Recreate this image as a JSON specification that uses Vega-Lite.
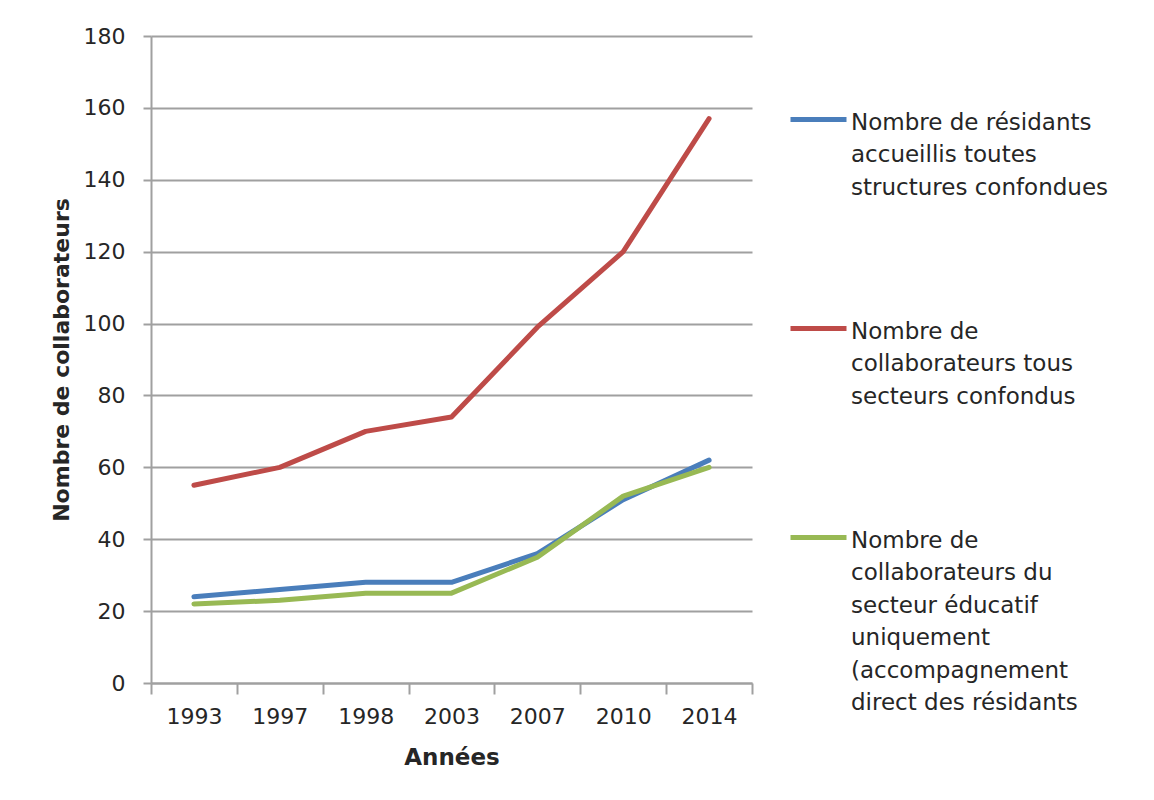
{
  "$schema": "https://vega.github.io/schema/vega-lite/v6.json",
  "width": 601,
  "height": 647,
  "autosize": {"type": "none"},
  "padding": {"left": 151, "top": 36, "right": 402, "bottom": 117},
  "background": "white",
  "config": {
    "font": "DejaVu Sans",
    "view": {"stroke": null}
  },
  "data": {
    "values": [
      {"annee": "1993", "serie": "residants", "valeur": 24},
      {"annee": "1997", "serie": "residants", "valeur": 26},
      {"annee": "1998", "serie": "residants", "valeur": 28},
      {"annee": "2003", "serie": "residants", "valeur": 28},
      {"annee": "2007", "serie": "residants", "valeur": 36},
      {"annee": "2010", "serie": "residants", "valeur": 51},
      {"annee": "2014", "serie": "residants", "valeur": 62},
      {"annee": "1993", "serie": "tous", "valeur": 55},
      {"annee": "1997", "serie": "tous", "valeur": 60},
      {"annee": "1998", "serie": "tous", "valeur": 70},
      {"annee": "2003", "serie": "tous", "valeur": 74},
      {"annee": "2007", "serie": "tous", "valeur": 99},
      {"annee": "2010", "serie": "tous", "valeur": 120},
      {"annee": "2014", "serie": "tous", "valeur": 157},
      {"annee": "1993", "serie": "educatif", "valeur": 22},
      {"annee": "1997", "serie": "educatif", "valeur": 23},
      {"annee": "1998", "serie": "educatif", "valeur": 25},
      {"annee": "2003", "serie": "educatif", "valeur": 25},
      {"annee": "2007", "serie": "educatif", "valeur": 35},
      {"annee": "2010", "serie": "educatif", "valeur": 52},
      {"annee": "2014", "serie": "educatif", "valeur": 60}
    ]
  },
  "mark": {"type": "line", "strokeWidth": 5, "strokeCap": "round", "strokeJoin": "round"},
  "encoding": {
    "x": {
      "field": "annee",
      "type": "ordinal",
      "sort": null,
      "bandPosition": 0.5,
      "scale": {"type": "band", "paddingInner": 0, "paddingOuter": 0},
      "axis": {
        "title": "Années",
        "titleFontSize": 23,
        "titleFontWeight": "bold",
        "titleColor": "#262626",
        "titlePadding": 19,
        "labelAngle": 0,
        "labelFontSize": 22,
        "labelColor": "#262626",
        "labelPadding": 12,
        "tickBand": "extent",
        "tickColor": "#a0a0a0",
        "tickWidth": 2,
        "tickSize": 11,
        "domainColor": "#a0a0a0",
        "domainWidth": 2,
        "grid": false
      }
    },
    "y": {
      "field": "valeur",
      "type": "quantitative",
      "scale": {"domain": [0, 180], "nice": false},
      "axis": {
        "title": "Nombre de collaborateurs",
        "titleFontSize": 22,
        "titleFontWeight": "bold",
        "titleColor": "#262626",
        "titlePadding": 10,
        "values": [0, 20, 40, 60, 80, 100, 120, 140, 160, 180],
        "labelFontSize": 22,
        "labelColor": "#262626",
        "labelPadding": 18,
        "tickColor": "#a0a0a0",
        "tickWidth": 2,
        "tickSize": 8,
        "domainColor": "#a0a0a0",
        "domainWidth": 2,
        "gridColor": "#a0a0a0",
        "gridWidth": 2
      }
    },
    "color": {
      "field": "serie",
      "type": "nominal",
      "scale": {
        "domain": ["residants", "tous", "educatif"],
        "range": ["#4A7EBB", "#BE4B48", "#98B954"]
      },
      "legend": {
        "title": null,
        "orient": "none",
        "legendX": 637,
        "legendY": 53,
        "symbolType": "stroke",
        "symbolSize": 3136,
        "symbolStrokeWidth": 5,
        "labelFontSize": 23,
        "labelColor": "#262626",
        "labelLimit": 0,
        "labelOffset": 2,
        "labelBaseline": "top",
        "rowPadding": 98,
        "labelExpr": "datum.value == 'residants' ? ['Nombre de résidants', 'accueillis toutes', 'structures confondues'] : datum.value == 'tous' ? ['Nombre de', 'collaborateurs tous', 'secteurs confondus'] : ['Nombre de', 'collaborateurs du', 'secteur éducatif', 'uniquement', '(accompagnement', 'direct des résidants']",
        "encode": {"labels": {"update": {"dy": {"value": -8}, "lineHeight": {"value": 32.5}}}}
      }
    }
  }
}
